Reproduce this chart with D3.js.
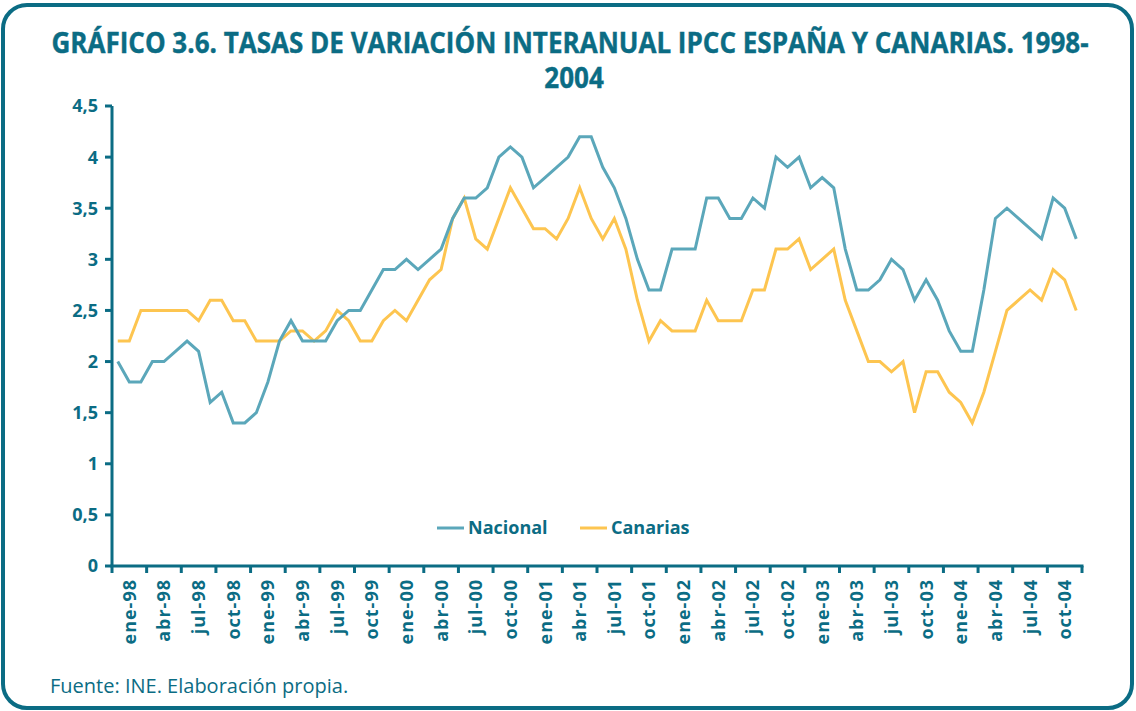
<!DOCTYPE html>
<html><head><meta charset="utf-8">
<script src="https://cdn.jsdelivr.net/npm/d3@7"></script>
<style>
html,body{margin:0;padding:0;background:#fff;}
svg{display:block;}
</style></head>
<body>
<svg id="chart" width="1136" height="711"></svg>
<script>
// ---- data ----
const monthAbbr = ["ene","feb","mar","abr","may","jun","jul","ago","sep","oct","nov","dic"];
const years = ["98","99","00","01","02","03","04"];
const categories = years.flatMap(y => monthAbbr.map(m => m + "-" + y));
const nacional = [
  2.0,1.8,1.8,2.0,2.0,2.1,2.2,2.1,1.6,1.7,1.4,1.4,
  1.5,1.8,2.2,2.4,2.2,2.2,2.2,2.4,2.5,2.5,2.7,2.9,
  2.9,3.0,2.9,3.0,3.1,3.4,3.6,3.6,3.7,4.0,4.1,4.0,
  3.7,3.8,3.9,4.0,4.2,4.2,3.9,3.7,3.4,3.0,2.7,2.7,
  3.1,3.1,3.1,3.6,3.6,3.4,3.4,3.6,3.5,4.0,3.9,4.0,
  3.7,3.8,3.7,3.1,2.7,2.7,2.8,3.0,2.9,2.6,2.8,2.6,
  2.3,2.1,2.1,2.7,3.4,3.5,3.4,3.3,3.2,3.6,3.5,3.2
];
const canarias = [
  2.2,2.2,2.5,2.5,2.5,2.5,2.5,2.4,2.6,2.6,2.4,2.4,
  2.2,2.2,2.2,2.3,2.3,2.2,2.3,2.5,2.4,2.2,2.2,2.4,
  2.5,2.4,2.6,2.8,2.9,3.4,3.6,3.2,3.1,3.4,3.7,3.5,
  3.3,3.3,3.2,3.4,3.7,3.4,3.2,3.4,3.1,2.6,2.2,2.4,
  2.3,2.3,2.3,2.6,2.4,2.4,2.4,2.7,2.7,3.1,3.1,3.2,
  2.9,3.0,3.1,2.6,2.3,2.0,2.0,1.9,2.0,1.5,1.9,1.9,
  1.7,1.6,1.4,1.7,2.1,2.5,2.6,2.7,2.6,2.9,2.8,2.5
];
const seriesNames = ["Nacional","Canarias"];
const yTicks = [0,0.5,1,1.5,2,2.5,3,3.5,4,4.5];
const xTickLabels = categories.filter((c,i) => i % 3 === 0);
const titleLines = ["GRÁFICO 3.6. TASAS DE VARIACIÓN INTERANUAL IPCC ESPAÑA Y CANARIAS. 1998-", "2004"];

// ---- style ----
const TEAL = "#0b6c84";
const C_NAC = "#5ba7ba";
const C_CAN = "#fdc550";
const FONT = "'Open Sans', 'Noto Sans', sans-serif";

const svg = d3.select("#chart");

// frame
svg.append("rect").attr("x",3).attr("y",5).attr("width",1129).attr("height",703)
  .attr("rx",24).attr("fill","none").attr("stroke",TEAL).attr("stroke-width",4);

// title (horizontally condensed to mimic the narrow original face)
const titleScale = 0.93;
[[titleLines[0],53],[titleLines[1],88]].forEach(([txt,yy],k) => {
  svg.append("g").attr("transform",`translate(${k===0?570:574},${yy}) scale(${titleScale},1)`)
    .append("text").attr("x",0).attr("y",0).attr("text-anchor","middle")
    .attr("fill",TEAL).attr("font-family",FONT).attr("font-weight","bold").attr("font-size",28)
    .attr("stroke",TEAL).attr("stroke-width",0.4)
    .text(txt);
});

// scales
const x = d3.scaleBand().domain(categories).range([112,1082]).padding(0);
const y = d3.scaleLinear().domain([0,4.5]).range([566,106]);
const cx = c => x(c) + x.bandwidth()/2;

// y axis
const yAxis = svg.append("g");
yAxis.append("line").attr("x1",112).attr("x2",112).attr("y1",y(4.5)).attr("y2",y(0))
  .attr("stroke",TEAL).attr("stroke-width",3);
yTicks.forEach(t => {
  yAxis.append("line").attr("x1",105).attr("x2",112).attr("y1",y(t)).attr("y2",y(t))
    .attr("stroke",TEAL).attr("stroke-width",3);
  yAxis.append("text").attr("x",98).attr("y",y(t)).attr("dy","0.36em").attr("text-anchor","end")
    .attr("fill",TEAL).attr("font-family",FONT).attr("font-weight","bold").attr("font-size",18)
    .text(String(t).replace(".",","));
});

// x axis
const xAxis = svg.append("g");
xAxis.append("line").attr("x1",110.5).attr("x2",1083.5).attr("y1",y(0)).attr("y2",y(0))
  .attr("stroke",TEAL).attr("stroke-width",3);
categories.forEach((c,i) => {
  if (i % 3 === 0) {
    xAxis.append("line").attr("x1",x(c)).attr("x2",x(c)).attr("y1",y(0)).attr("y2",y(0)+7)
      .attr("stroke",TEAL).attr("stroke-width",3);
  }
});
xAxis.append("line").attr("x1",1082).attr("x2",1082).attr("y1",y(0)).attr("y2",y(0)+7)
  .attr("stroke",TEAL).attr("stroke-width",3);
xTickLabels.forEach((lab,k) => {
  const c = categories[k*3];
  const px = x(c) + 1.5*x.bandwidth();
  xAxis.append("text").attr("transform",`translate(${px},579) rotate(-90)`)
    .attr("dy","0.36em").attr("text-anchor","end")
    .attr("fill",TEAL).attr("font-family",FONT).attr("font-weight","bold").attr("font-size",18)
    .attr("letter-spacing",1)
    .text(lab);
});

// lines
const line = d3.line().x((d,i) => cx(categories[i])).y(d => y(d));
svg.append("path").datum(canarias).attr("d",line).attr("fill","none")
  .attr("stroke",C_CAN).attr("stroke-width",3).attr("stroke-linejoin","miter");
svg.append("path").datum(nacional).attr("d",line).attr("fill","none")
  .attr("stroke",C_NAC).attr("stroke-width",3).attr("stroke-linejoin","miter");

// legend
const legend = [
  {name: seriesNames[0], color: C_NAC, x: 437},
  {name: seriesNames[1], color: C_CAN, x: 580}
];
legend.forEach(l => {
  svg.append("line").attr("x1",l.x).attr("x2",l.x+27).attr("y1",528).attr("y2",528)
    .attr("stroke",l.color).attr("stroke-width",3);
  svg.append("text").attr("x",l.x+31).attr("y",528).attr("dy","0.36em")
    .attr("fill",TEAL).attr("font-family",FONT).attr("font-weight","bold").attr("font-size",18)
    .text(l.name);
});

// source
svg.append("text").attr("x",50).attr("y",693)
  .attr("fill",TEAL).attr("font-family",FONT).attr("font-size",20)
  .text("Fuente: INE. Elaboración propia.");
</script>
</body></html>
